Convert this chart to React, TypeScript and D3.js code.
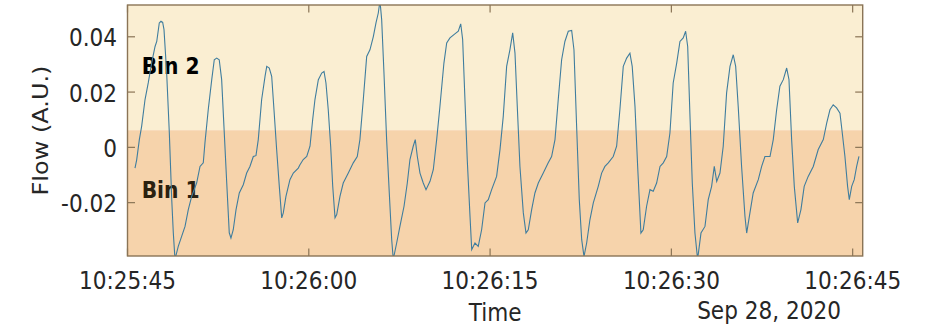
import * as d3 from "d3";

// seconds after 10:25:45 and flow values
const T = [
  0.62, 0.76, 0.98, 1.17, 1.45, 1.72, 2.0, 2.28, 2.42, 2.63, 2.77, 2.91, 3.02, 3.24, 3.46, 3.66, 3.79, 3.93,
  4.2, 4.48, 4.76, 5.03, 5.31, 5.72, 6.0, 6.27, 6.41, 6.68, 6.97, 7.18, 7.38, 7.59, 7.79, 7.98, 8.21, 8.42,
  8.56, 8.75, 8.98, 9.25, 9.58, 9.86, 10.13, 10.41, 10.63, 10.82, 11.1, 11.38, 11.52, 11.73, 11.93, 12.12,
  12.34, 12.56, 12.76, 12.89, 13.11, 13.44, 13.72, 14.13, 14.27, 14.54, 14.83, 15.1, 15.32, 15.51, 15.79,
  16.07, 16.26, 16.42, 16.61, 16.81, 16.98, 17.17, 17.31, 17.58, 17.85, 18.27, 18.68, 19.01, 19.23, 19.51,
  19.79, 20.06, 20.34, 20.56, 20.75, 20.89, 21.03, 21.22, 21.44, 21.66, 21.86, 21.99, 22.27, 22.54, 22.88,
  23.15, 23.37, 23.64, 23.81, 23.98, 24.2, 24.47, 24.7, 25.03, 25.3, 25.58, 25.85, 26.18, 26.41, 26.68,
  27.01, 27.37, 27.57, 27.73, 27.92, 28.11, 28.34, 28.48, 28.75, 29.02, 29.3, 29.58, 29.85, 30.13, 30.54,
  30.82, 31.09, 31.37, 31.64, 31.87, 32.06, 32.25, 32.47, 32.75, 32.97, 33.16, 33.44, 33.71, 33.99, 34.4,
  34.81, 35.09, 35.37, 35.64, 35.92, 36.19, 36.47, 36.75, 36.94, 37.16, 37.38, 37.58, 37.77, 37.99, 38.26,
  38.54, 38.95, 39.23, 39.5, 39.78, 40.19, 40.47, 40.74, 41.02, 41.3, 41.57, 41.76, 41.99, 42.21, 42.48,
  42.67, 42.95, 43.23, 43.5, 43.78, 44.06, 44.33, 44.61, 44.88, 45.15, 45.44, 45.71, 45.98, 46.18, 46.35,
  46.54, 46.73, 46.95, 47.17, 47.45, 47.78, 48.05, 48.33, 48.55, 48.75, 49.02, 49.29, 49.57, 49.85, 50.12,
  50.32, 50.53, 50.81, 51.09, 51.23, 51.5, 51.77, 52.19, 52.47, 52.74, 53.16, 53.43, 53.71, 53.98, 54.26,
  54.54, 54.73, 54.95, 55.17, 55.45, 55.72, 55.99, 56.32, 56.74, 57.15, 57.57, 57.85, 58.12, 58.39, 58.67,
  58.95, 59.14, 59.36, 59.58, 59.72, 59.92, 60.13, 60.33, 60.52,
];
const FLOW = [
  -0.0075, -0.0045, 0.0028, 0.0076, 0.0173, 0.0234, 0.0306, 0.0365, 0.0383, 0.045, 0.0456, 0.0452, 0.0426,
  0.027, 0.0053, -0.0189, -0.0309, -0.0405, -0.0358, -0.0322, -0.0286, -0.0225, -0.0177, -0.0129, -0.0069,
  -0.0056, 0.0017, 0.0136, 0.0245, 0.0317, 0.0323, 0.0317, 0.0245, 0.0076, -0.0128, -0.0309, -0.0328,
  -0.0298, -0.0225, -0.0165, -0.0135, -0.0093, -0.0069, -0.0033, -0.003, 0.0028, 0.0173, 0.0257, 0.0293,
  0.0287, 0.0257, 0.0136, -0.0008, -0.0141, -0.0255, -0.0237, -0.0177, -0.0117, -0.0093, -0.0075, -0.0063,
  -0.0044, -0.0033, 0.0004, 0.01, 0.0173, 0.0245, 0.0269, 0.0275, 0.0233, 0.0136, 0.0004, -0.0141, -0.0255,
  -0.0243, -0.0177, -0.0129, -0.0093, -0.0056, -0.0033, 0.0028, 0.0173, 0.0329, 0.0353, 0.0401, 0.045,
  0.0486, 0.053, 0.0462, 0.0269, 0.0028, -0.0165, -0.0334, -0.0405, -0.0346, -0.0286, -0.0213, -0.0129,
  -0.0044, 0.0004, 0.0028, -0.0033, -0.0093, -0.0129, -0.0153, -0.0123, -0.0081, 0.0028, 0.0148, 0.0305,
  0.0378, 0.0396, 0.0408, 0.042, 0.0447, 0.039, 0.0173, -0.0044, -0.025, -0.037, -0.0346, -0.0358, -0.0298,
  -0.0201, -0.0189, -0.0153, -0.0105, -0.0008, 0.0112, 0.0293, 0.0353, 0.0414, 0.0341, 0.0148, -0.0069,
  -0.0237, -0.031, -0.0298, -0.0225, -0.0165, -0.0129, -0.0093, -0.0056, -0.0033, 0.0028, 0.0173, 0.0317,
  0.0383, 0.042, 0.0423, 0.0353, 0.0076, -0.0189, -0.0334, -0.0395, -0.0346, -0.0262, -0.0201, -0.0141,
  -0.0093, -0.0069, -0.0056, -0.0033, 0.0004, 0.0136, 0.0293, 0.0323, 0.0341, 0.0293, 0.0148, -0.0069,
  -0.031, -0.0298, -0.0213, -0.0153, -0.0159, -0.0129, -0.0069, -0.0056, -0.0033, 0.0052, 0.0233, 0.0305,
  0.0383, 0.0396, 0.042, 0.0365, 0.0112, -0.0129, -0.031, -0.0405, -0.031, -0.0286, -0.0189, -0.0141,
  -0.0069, -0.0123, -0.0093, 0.0004, 0.0197, 0.0293, 0.0335, 0.0293, 0.0148, -0.0069, -0.025, -0.031,
  -0.0237, -0.0165, -0.0117, -0.0069, -0.0033, -0.0033, 0.0028, 0.0136, 0.0221, 0.0245, 0.0287, 0.0245,
  0.0028, -0.0141, -0.0273, -0.0225, -0.0141, -0.0105, -0.0069, -0.0008, 0.0028, 0.0088, 0.0136, 0.0154,
  0.0143, 0.0124, 0.0052, -0.0033, -0.0141, -0.0189, -0.0141, -0.0117, -0.0069, -0.0033,
];
const Y_TICKS = [-0.02, 0, 0.02, 0.04];
const Y_TICK_LABELS = ["-0.02", "0", "0.02", "0.04"];
const Y_DOMAIN: [number, number] = [-0.0393, 0.0515];
const BIN_SPLIT = 0.0062;
const START = new Date(2020, 8, 28, 10, 25, 45);
const SPAN_S = 60.83;
const BINS = [
  { name: "Bin 2", lo: BIN_SPLIT, hi: Y_DOMAIN[1], fill: "#FAEED2", text: "#000000", at: 0.0296 },
  { name: "Bin 1", lo: Y_DOMAIN[0], hi: BIN_SPLIT, fill: "#F6D3AB", text: "#2b2110", at: -0.0156 },
];

const W = 925, H = 325;
const M = { left: 127.5, right: 862.7, top: 5, bottom: 256 };
const FONT = "'DejaVu Sans', sans-serif";
const SX = 0.9; // glyphs in the reference are squeezed horizontally
const AXIS = "#8a7456";
const TICK = 7.5;

export default function App() {
  const x = d3.scaleTime()
    .domain([START, new Date(START.getTime() + SPAN_S * 1000)])
    .range([M.left, M.right]);
  const y = d3.scaleLinear().domain(Y_DOMAIN).range([M.bottom, M.top]);
  const pts = T.map((t, i) => ({ d: new Date(START.getTime() + t * 1000), v: FLOW[i] }));
  const line = d3.line<{ d: Date; v: number }>().x(p => x(p.d)).y(p => y(p.v));
  const xTicks = x.ticks(d3.timeSecond.every(15)!);
  const fmt = d3.timeFormat("%H:%M:%S");

  return (
    <div style={{ position: "absolute", left: 0, top: 0 }}>
      <svg width={W} height={H} style={{ display: "block", background: "#fff" }} fontFamily={FONT}>
        <defs>
          <clipPath id="plot">
            <rect x={M.left} y={M.top} width={M.right - M.left} height={M.bottom - M.top} />
          </clipPath>
        </defs>
        {BINS.map(b => (
          <rect key={b.name} x={M.left} width={M.right - M.left} y={y(b.hi)} height={y(b.lo) - y(b.hi)} fill={b.fill} />
        ))}
        {BINS.map(b => (
          <text key={b.name + "t"} transform={`translate(141.7,${y(b.at) + 8}) scale(${SX},1)`}
            fontSize={22.5} fontWeight="bold" fill={b.text}>{b.name}</text>
        ))}
        <path d={line(pts) ?? ""} fill="none" stroke="#3f7d9e" strokeWidth={1.1} clipPath="url(#plot)" />

        {/* ticks, inside on all four sides */}
        {xTicks.map(t => (
          <g key={+t} stroke={AXIS} strokeWidth={1.2}>
            <line x1={x(t)} x2={x(t)} y1={M.bottom} y2={M.bottom - TICK} />
            <line x1={x(t)} x2={x(t)} y1={M.top} y2={M.top + TICK} />
          </g>
        ))}
        {Y_TICKS.map(t => (
          <g key={t} stroke={AXIS} strokeWidth={1.2}>
            <line x1={M.left} x2={M.left + TICK} y1={y(t)} y2={y(t)} />
            <line x1={M.right} x2={M.right - TICK} y1={y(t)} y2={y(t)} />
          </g>
        ))}
        <rect x={M.left} y={M.top} width={M.right - M.left} height={M.bottom - M.top}
          fill="none" stroke={AXIS} strokeWidth={1.4} />

        {xTicks.map(t => (
          <text key={+t + "l"} transform={`translate(${x(t)},289) scale(${SX},1)`}
            textAnchor="middle" fontSize={24} fill="#262626">{fmt(t)}</text>
        ))}
        {Y_TICKS.map((t, i) => (
          <text key={t + "l"} transform={`translate(117,${y(t) + 9.5}) scale(${SX},1)`}
            textAnchor="end" fontSize={24} fill="#262626">{Y_TICK_LABELS[i]}</text>
        ))}
        <text transform={`translate(${(M.left + M.right) / 2},321) scale(${SX},1)`}
          textAnchor="middle" fontSize={24} fill="#262626">Time</text>
        <text transform={`translate(769,319) scale(${SX},1)`}
          textAnchor="middle" fontSize={24} fill="#262626">Sep 28, 2020</text>
        <text transform={`translate(48,${(M.top + M.bottom) / 2}) scale(${SX},1) rotate(-90)`}
          textAnchor="middle" fontSize={24} fill="#262626">Flow (A.U.)</text>
      </svg>
    </div>
  );
}
